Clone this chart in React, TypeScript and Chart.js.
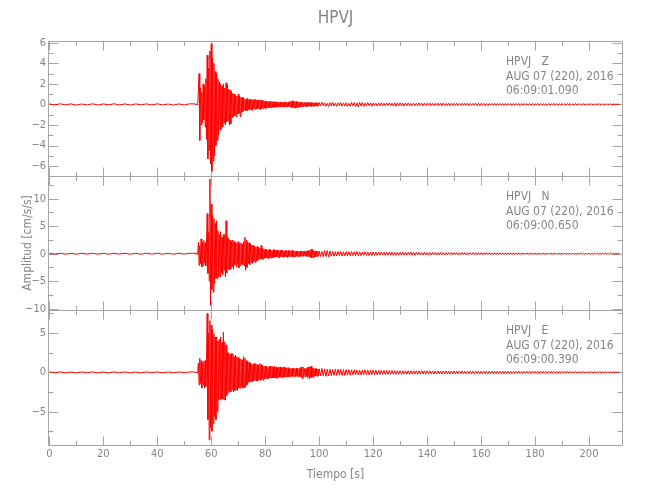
import React, { useEffect, useRef } from "react";
import { Chart, registerables } from "chart.js";

Chart.register(...registerables);

// ---------- data ----------
const TITLE = "HPVJ";
const X_TITLE = "Tiempo [s]";
const Y_TITLE = "Amplitud [cm/s/s]";
const stationLabels = ["HPVJ   Z", "HPVJ   N", "HPVJ   E"];
const dateLabel = "AUG 07 (220), 2016";
const startTimes = ["06:09:01.090", "06:09:00.650", "06:09:00.390"];

// sampling of the three segments of each trace (seconds)
const PRE_START = 0;
const PRE_DT = 2;
const STRONG_START = 54;
const STRONG_DT = 0.25;
const CODA_START = 100;
const CODA_DT = 0.5;

const X_MIN = -0.5;
const X_MAX = 212.6;
const xMajorStep = 20;
const xMinorStep = 10;
const xTickLast = 200;

// panel ranges (top to bottom: Z, N, E)
const yMins = [-6.93, -10.3, -9.24];
const yMaxs = [6.17, 14.2, 7.9];
const yMajorSteps = [2, 5, 5];
const yMinorSteps = [1, 2.5, 2.5];

// Z component
const zPre = [0.05, -0.05, 0.06, -0.04, 0.05, -0.06, 0.04, -0.05, 0.06, -0.05, 0.05, -0.04, 0.06, -0.05, 0.05, -0.06, 0.05, -0.04, 0.05, -0.05, 0.06, -0.05, 0.04, -0.06, 0.05, -0.05, 0.06];
const zStrong = [
  0.05, -0.04, 0.06, -0.05, 0.1, 1.5, 3.0, -3.5, 1.6, -2.0, 1.2, -1.8, 2.0, -1.5, 1.8, -2.2, 2.5, -3.4, 4.8, -5.3,
  3.5, -4.5, 5.2, -5.8, 5.9, -6.5, 4.5, -5.5, 4.0, -5.0, 3.2, -4.0, 3.0, -3.5, 2.5, -3.0, 2.2, -2.5, 2.0, -2.4,
  1.8, -2.2, 2.0, -1.8, 1.6, -2.0, 2.1, -1.7, 1.9, -1.6, 1.5, -2.0, 1.4, -1.9, 1.2, -1.3, 1.1, -1.2, 1.0, -1.1,
  0.9, -1.2, 0.8, -0.9, 1.0, -0.9, 0.8, -1.2, 0.7, -0.8, 0.7, -0.7, 0.6, -0.55, 0.55, -0.6, 0.5, -0.6, 0.6, -0.5,
  0.5, -0.55, 0.45, -0.5, 0.5, -0.6, 0.45, -0.4, 0.45, -0.5, 0.5, -0.45, 0.4, -0.45, 0.4, -0.42, 0.45, -0.5, 0.42, -0.4,
  0.35, -0.4, 0.38, -0.35, 0.3, -0.4, 0.32, -0.3, 0.3, -0.35, 0.28, -0.3, 0.28, -0.3, 0.3, -0.26, 0.25, -0.3, 0.27, -0.25,
  0.25, -0.28, 0.24, -0.25, 0.22, -0.25, 0.24, -0.22, 0.22, -0.25, 0.2, -0.22, 0.25, -0.22, 0.22, -0.25, 0.2, -0.22, 0.22, -0.2,
  0.28, -0.25, 0.3, -0.3, 0.35, -0.3, 0.32, -0.35, 0.3, -0.35, 0.28, -0.3, 0.25, -0.3, 0.24, -0.25, 0.22, -0.25, 0.22, -0.2,
  0.2, -0.22, 0.18, -0.2, 0.2, -0.22, 0.18, -0.2, 0.18, -0.18, 0.2, -0.17, 0.18, -0.2, 0.16, -0.18, 0.16, -0.18, 0.17, -0.16,
  0.15, -0.18, 0.16, -0.15,
];
const zCoda = [
  0.18, -0.15, 0.2, -0.12, 0.16, -0.18, 0.1, -0.2, 0.17, -0.14, 0.2, -0.16, 0.12, -0.18, 0.15, -0.1, 0.18, -0.17, 0.14, -0.15,
  0.16, -0.2, 0.12, -0.18, 0.2, -0.14, 0.17, -0.22, 0.15, -0.25, 0.2, -0.16, 0.18, -0.2, 0.13, -0.17, 0.16, -0.12, 0.15, -0.18,
  0.14, -0.16, 0.1, -0.15, 0.14, -0.12, 0.16, -0.14, 0.12, -0.15, 0.13, -0.1, 0.15, -0.14, 0.12, -0.16, 0.17, -0.18, 0.15, -0.13,
  0.16, -0.14, 0.12, -0.15, 0.13, -0.11, 0.14, -0.12, 0.1, -0.14, 0.12, -0.13, 0.11, -0.12, 0.14, -0.1, 0.12, -0.13, 0.11, -0.12,
  0.12, -0.1, 0.13, -0.12, 0.1, -0.12, 0.11, -0.13, 0.12, -0.1, 0.11, -0.12, 0.13, -0.11, 0.1, -0.12, 0.12, -0.11, 0.1, -0.11,
  0.11, -0.1, 0.12, -0.1, 0.09, -0.11, 0.12, -0.1, 0.11, -0.09, 0.1, -0.12, 0.1, -0.1, 0.11, -0.09, 0.1, -0.11, 0.12, -0.1,
  0.1, -0.09, 0.1, -0.11, 0.09, -0.1, 0.08, -0.1, 0.1, -0.09, 0.11, -0.08, 0.09, -0.1, 0.1, -0.09, 0.08, -0.1, 0.09, -0.1,
  0.1, -0.08, 0.09, -0.1, 0.08, -0.09, 0.1, -0.08, 0.09, -0.1, 0.08, -0.09, 0.1, -0.09, 0.08, -0.1, 0.09, -0.08, 0.1, -0.09,
  0.09, -0.08, 0.1, -0.09, 0.08, -0.08, 0.09, -0.1, 0.08, -0.09, 0.09, -0.08, 0.08, -0.09, 0.1, -0.08, 0.09, -0.08, 0.08, -0.09,
  0.08, -0.09, 0.08, -0.07, 0.09, -0.08, 0.08, -0.09, 0.07, -0.08, 0.09, -0.08, 0.08, -0.07, 0.08, -0.09, 0.08, -0.08, 0.07, -0.08,
  0.08, -0.07, 0.08, -0.08, 0.07, -0.08, 0.08, -0.07, 0.08, -0.07, 0.07, -0.08, 0.08, -0.07, 0.07, -0.08, 0.08, -0.07, 0.07, -0.08,
  0.07, -0.08, 0.07, -0.07,
];

// N component
const nPre = [0.08, -0.07, 0.08, -0.08, 0.07, -0.08, 0.08, -0.07, 0.08, -0.08, 0.07, -0.08, 0.08, -0.07, 0.08, -0.08, 0.07, -0.08, 0.08, -0.07, 0.08, -0.08, 0.07, -0.08, 0.08, -0.07, 0.08];
const nStrong = [
  0.1, -0.08, 0.1, -0.1, 0.3, 2.1, -2.1, 1.5, -1.8, 2.7, -2.4, 2.0, -2.2, 2.4, -1.6, 2.0, -2.2, 1.8, 7.3, -3.6,
  4.0, -5.0, 13.6, -9.4, 9.0, -6.5, 7.0, -7.0, 6.4, -5.5, 5.5, -4.5, 6.0, -4.5, 4.2, -4.2, 3.5, -4.2, 4.0, -3.5,
  3.0, -3.8, 3.5, -3.0, 3.5, -4.2, 6.0, -3.5, 3.0, -2.8, 2.8, -3.0, 2.5, -2.8, 2.2, -2.4, 2.5, -2.8, 2.2, -2.0,
  2.0, -2.4, 2.0, -1.8, 2.2, -2.6, 1.8, -2.2, 2.0, -1.8, 1.8, -2.0, 2.2, -2.2, 3.0, -3.0, 2.4, -2.5, 2.0, -1.8,
  2.0, -2.0, 1.8, -1.6, 1.6, -1.8, 1.5, -1.4, 1.4, -1.6, 1.2, -1.4, 1.3, -1.2, 1.2, -1.0, 1.0, -0.9, 1.5, -1.0,
  1.0, -1.0, 0.9, -0.8, 0.8, -0.8, 0.8, -0.7, 0.7, -0.9, 0.8, -0.7, 0.7, -0.8, 0.6, -0.7, 0.7, -0.7, 0.8, -0.6,
  0.6, -0.6, 0.7, -0.6, 0.6, -0.8, 0.6, -0.5, 0.6, -0.6, 0.7, -0.6, 0.5, -0.6, 0.6, -0.5, 0.6, -0.7, 0.6, -0.5,
  0.5, -0.5, 0.55, -0.5, 0.6, -0.6, 0.5, -0.6, 0.5, -0.5, 0.5, -0.45, 0.5, -0.55, 0.45, -0.5, 0.5, -0.5, 0.45, -0.4,
  0.5, -0.5, 0.45, -0.45, 0.5, -0.45, 0.5, -0.5, 0.6, -0.5, 0.6, -0.7, 0.8, -0.7, 0.8, -0.75, 0.6, -0.6, 0.5, -0.55,
  0.5, -0.5, 0.45, -0.45,
];
const nCoda = [
  0.45, -0.5, 0.4, -0.55, 0.6, -0.5, 0.55, -0.6, 0.5, -0.45, 0.4, -0.45, 0.38, -0.42, 0.4, -0.35, 0.38, -0.4, 0.36, -0.38,
  0.35, -0.38, 0.4, -0.35, 0.38, -0.32, 0.35, -0.36, 0.4, -0.36, 0.34, -0.35, 0.32, -0.3, 0.35, -0.32, 0.3, -0.34, 0.32, -0.35,
  0.32, -0.3, 0.28, -0.32, 0.3, -0.28, 0.3, -0.26, 0.28, -0.3, 0.26, -0.28, 0.3, -0.26, 0.28, -0.3, 0.26, -0.28, 0.25, -0.26,
  0.25, -0.27, 0.26, -0.24, 0.25, -0.26, 0.24, -0.22, 0.3, -0.28, 0.26, -0.28, 0.24, -0.22, 0.25, -0.24, 0.22, -0.23, 0.22, -0.24,
  0.22, -0.24, 0.2, -0.22, 0.22, -0.2, 0.22, -0.21, 0.2, -0.22, 0.21, -0.2, 0.2, -0.22, 0.19, -0.2, 0.2, -0.19, 0.2, -0.2,
  0.2, -0.18, 0.19, -0.2, 0.18, -0.19, 0.2, -0.18, 0.18, -0.2, 0.19, -0.17, 0.18, -0.18, 0.17, -0.18, 0.18, -0.17, 0.18, -0.18,
  0.17, -0.18, 0.16, -0.17, 0.18, -0.16, 0.17, -0.16, 0.16, -0.17, 0.18, -0.16, 0.16, -0.17, 0.15, -0.16, 0.16, -0.15, 0.15, -0.16,
  0.16, -0.15, 0.15, -0.16, 0.16, -0.15, 0.14, -0.16, 0.15, -0.14, 0.16, -0.15, 0.14, -0.15, 0.15, -0.14, 0.15, -0.15, 0.14, -0.15,
  0.14, -0.15, 0.15, -0.14, 0.14, -0.13, 0.15, -0.14, 0.13, -0.14, 0.14, -0.13, 0.13, -0.14, 0.14, -0.13, 0.13, -0.14, 0.14, -0.13,
  0.13, -0.14, 0.12, -0.13, 0.13, -0.12, 0.13, -0.13, 0.12, -0.13, 0.13, -0.12, 0.12, -0.13, 0.13, -0.12, 0.12, -0.12, 0.13, -0.12,
  0.12, -0.12, 0.11, -0.12, 0.12, -0.11, 0.12, -0.11, 0.11, -0.12, 0.12, -0.11, 0.11, -0.12, 0.11, -0.11, 0.12, -0.11, 0.11, -0.11,
  0.11, -0.1, 0.11, -0.1,
];

// E component
const ePre = [0.06, -0.05, 0.06, -0.06, 0.05, -0.06, 0.06, -0.05, 0.06, -0.06, 0.05, -0.06, 0.06, -0.05, 0.06, -0.06, 0.05, -0.06, 0.06, -0.05, 0.06, -0.06, 0.05, -0.06, 0.06, -0.05, 0.06];
const eStrong = [
  0.05, -0.05, 0.06, -0.05, 0.2, 1.2, -1.6, 1.8, -1.4, 1.5, -2.0, 1.2, -1.6, 1.4, -2.0, 1.5, -1.8, 1.6, 7.5, -6.0,
  5.0, -8.6, 6.6, -7.0, 6.0, -7.5, 5.4, -6.5, 4.9, -5.6, 4.5, -6.0, 4.5, -5.0, 4.0, -3.5, 4.2, -3.5, 4.5, -3.4,
  3.8, -3.4, 5.1, -3.5, 3.9, -3.5, 3.5, -3.0, 2.5, -2.6, 2.5, -2.4, 2.3, -2.5, 2.4, -2.2, 2.4, -2.5, 2.0, -2.3,
  2.2, -2.2, 2.0, -2.3, 1.9, -2.0, 1.7, -2.0, 1.7, -1.8, 1.6, -2.0, 2.0, -1.9, 1.8, -1.9, 1.5, -1.6, 1.4, -1.3,
  1.3, -1.2, 1.2, -1.2, 1.1, -1.2, 1.0, -1.1, 1.2, -1.0, 1.1, -1.1, 1.0, -1.1, 0.9, -0.9, 1.1, -1.0, 1.0, -0.9,
  0.9, -1.0, 0.8, -0.8, 0.8, -0.8, 0.75, -0.8, 0.7, -0.8, 0.8, -0.7, 0.75, -0.7, 0.8, -0.7, 0.7, -0.7, 0.75, -0.7,
  0.7, -0.75, 0.6, -0.7, 0.65, -0.6, 0.7, -0.6, 0.6, -0.7, 0.65, -0.6, 0.7, -0.6, 0.55, -0.6, 0.6, -0.55, 0.6, -0.55,
  0.5, -0.55, 0.5, -0.5, 0.55, -0.5, 0.5, -0.55, 0.5, -0.5, 0.55, -0.5, 0.5, -0.55, 0.5, -0.5, 0.6, -0.6, 0.7, -0.8,
  0.7, -0.6, 0.5, -0.55, 0.5, -0.5, 0.6, -0.6, 0.7, -0.8, 0.7, -0.6, 0.8, -0.7, 0.6, -0.6, 0.5, -0.5, 0.5, -0.45,
  0.45, -0.5, 0.45, -0.45,
];
const eCoda = [
  0.45, -0.45, 0.5, -0.42, 0.45, -0.5, 0.42, -0.45, 0.4, -0.42, 0.38, -0.4, 0.42, -0.38, 0.4, -0.36, 0.38, -0.4, 0.36, -0.38,
  0.36, -0.35, 0.34, -0.36, 0.32, -0.3, 0.34, -0.32, 0.3, -0.32, 0.3, -0.3, 0.28, -0.3, 0.3, -0.28, 0.28, -0.3, 0.28, -0.27,
  0.28, -0.26, 0.27, -0.28, 0.25, -0.26, 0.26, -0.25, 0.24, -0.25, 0.25, -0.24, 0.24, -0.23, 0.24, -0.22, 0.23, -0.24, 0.22, -0.23,
  0.22, -0.24, 0.22, -0.21, 0.22, -0.22, 0.21, -0.22, 0.2, -0.21, 0.21, -0.2, 0.2, -0.21, 0.2, -0.2, 0.21, -0.2, 0.2, -0.19,
  0.2, -0.19, 0.2, -0.18, 0.19, -0.2, 0.18, -0.19, 0.18, -0.18, 0.17, -0.18, 0.18, -0.17, 0.18, -0.18, 0.17, -0.18, 0.17, -0.17,
  0.17, -0.18, 0.17, -0.16, 0.17, -0.17, 0.16, -0.17, 0.16, -0.16, 0.17, -0.16, 0.16, -0.16, 0.15, -0.16, 0.16, -0.15, 0.16, -0.16,
  0.15, -0.16, 0.15, -0.15, 0.16, -0.15, 0.14, -0.15, 0.15, -0.14, 0.15, -0.15, 0.14, -0.15, 0.14, -0.14, 0.15, -0.14, 0.14, -0.14,
  0.14, -0.15, 0.14, -0.14, 0.13, -0.14, 0.14, -0.13, 0.14, -0.13, 0.13, -0.14, 0.13, -0.13, 0.14, -0.13, 0.13, -0.13, 0.13, -0.12,
  0.13, -0.13, 0.12, -0.13, 0.13, -0.12, 0.13, -0.12, 0.12, -0.12, 0.12, -0.13, 0.12, -0.12, 0.12, -0.11, 0.12, -0.12, 0.11, -0.12,
  0.12, -0.12, 0.11, -0.12, 0.12, -0.11, 0.11, -0.12, 0.11, -0.11, 0.12, -0.11, 0.11, -0.11, 0.11, -0.12, 0.11, -0.11, 0.1, -0.11,
  0.11, -0.11, 0.1, -0.11, 0.11, -0.1, 0.11, -0.1, 0.1, -0.11, 0.1, -0.1, 0.11, -0.1, 0.1, -0.1, 0.1, -0.11, 0.1, -0.1,
  0.1, -0.1, 0.1, -0.1,
];

// ---------- styling ----------
const FONT = "'DejaVu Sans Condensed', 'Liberation Sans Narrow', 'DejaVu Sans', sans-serif";
const AXIS_COLOR = "#a6a6a6";
const TEXT_COLOR = "#858585";
const TRACE_COLOR = "#ff0000";
const PANEL_IDS = ["yZ", "yN", "yE"];

function buildTrace(pre: number[], strong: number[], coda: number[]) {
  const pts: { x: number; y: number }[] = [];
  pre.forEach((v, i) => pts.push({ x: PRE_START + i * PRE_DT, y: v }));
  strong.forEach((v, i) => pts.push({ x: STRONG_START + i * STRONG_DT, y: v }));
  coda.forEach((v, i) => pts.push({ x: CODA_START + i * CODA_DT, y: v }));
  return pts;
}

const fmt = (v: number) => (v < 0 ? "\u2212" + Math.abs(v) : String(v));

const framePlugin = {
  id: "panelFrames",
  beforeDatasetsDraw(chart: any) {
    const ctx = chart.ctx;
    const xs = chart.scales.x;
    const L = Math.round(chart.chartArea.left) + 0.5;
    const R = Math.round(chart.chartArea.right) - 0.5;
    ctx.save();
    ctx.strokeStyle = AXIS_COLOR;
    ctx.lineWidth = 1;
    PANEL_IDS.forEach((id, p) => {
      const s = chart.scales[id];
      const top = Math.round(s.top) + 0.5;
      const bottom = Math.round(s.bottom) + 0.5;
      ctx.beginPath();
      ctx.rect(L, top, R - L, bottom - top);
      s.ticks.forEach((t: any) => {
        const y = Math.round(s.getPixelForValue(t.value)) + 0.5;
        ctx.moveTo(L, y);
        ctx.lineTo(L + 10, y);
        ctx.moveTo(R, y);
        ctx.lineTo(R - 10, y);
      });
      const m = yMinorSteps[p];
      const M = yMajorSteps[p];
      for (let k = Math.ceil(s.min / m); k * m <= s.max; k++) {
        const v = k * m;
        const r = v / M;
        if (Math.abs(r - Math.round(r)) < 1e-6) continue;
        const y = Math.round(s.getPixelForValue(v)) + 0.5;
        ctx.moveTo(L, y);
        ctx.lineTo(L + 5, y);
        ctx.moveTo(R, y);
        ctx.lineTo(R - 5, y);
      }
      for (let k = 0; k * xMinorStep <= xTickLast; k++) {
        const v = k * xMinorStep;
        const major = v % xMajorStep === 0;
        const len = major ? 9 : 4.5;
        const x = Math.round(xs.getPixelForValue(v)) + 0.5;
        ctx.moveTo(x, top);
        ctx.lineTo(x, top + len);
        ctx.moveTo(x, bottom);
        ctx.lineTo(x, bottom - len);
      }
      ctx.stroke();
    });
    ctx.restore();
  },
  afterDatasetsDraw(chart: any) {
    const ctx = chart.ctx;
    const x = chart.chartArea.right - 117;
    ctx.save();
    ctx.fillStyle = TEXT_COLOR;
    ctx.font = "12px " + FONT;
    ctx.textBaseline = "middle";
    ctx.textAlign = "left";
    PANEL_IDS.forEach((id, p) => {
      const s = chart.scales[id];
      ctx.fillText(stationLabels[p], x, s.top + 21);
      ctx.fillText(dateLabel, x, s.top + 36);
      ctx.fillText(startTimes[p], x, s.top + 50);
    });
    ctx.restore();
  },
};

function yScale(p: number, withTitle: boolean) {
  return {
    type: "linear",
    position: "left",
    stack: "panels",
    stackWeight: 1,
    min: yMins[p],
    max: yMaxs[p],
    grid: { display: false, drawTicks: false },
    border: { display: false },
    ticks: {
      stepSize: yMajorSteps[p],
      includeBounds: false,
      autoSkip: false,
      padding: 2,
      color: TEXT_COLOR,
      font: { family: FONT, size: 11 },
      callback: (v: any) => fmt(Number(v)),
    },
    title: {
      display: withTitle,
      text: Y_TITLE,
      color: TEXT_COLOR,
      font: { family: FONT, size: 12 },
      padding: { top: 20.8, bottom: 0 },
    },
    afterFit: (scale: any) => {
      scale.width = 48;
    },
  };
}

export default function App() {
  const ref = useRef<HTMLCanvasElement | null>(null);
  useEffect(() => {
    if (!ref.current) return;
    const datasets = [
      { label: "Z", data: buildTrace(zPre, zStrong, zCoda), yAxisID: "yZ" },
      { label: "N", data: buildTrace(nPre, nStrong, nCoda), yAxisID: "yN" },
      { label: "E", data: buildTrace(ePre, eStrong, eCoda), yAxisID: "yE" },
    ].map((d) => ({
      ...d,
      borderColor: TRACE_COLOR,
      backgroundColor: TRACE_COLOR,
      borderWidth: 1,
      pointRadius: 0,
      tension: 0,
      fill: false,
    }));
    const chart = new Chart(ref.current, {
      type: "line",
      data: { datasets },
      options: {
        animation: false,
        responsive: false,
        devicePixelRatio: 1,
        parsing: false,
        layout: { padding: { left: 0, right: 27, top: 0, bottom: 0 } },
        plugins: {
          legend: { display: false },
          tooltip: { enabled: false },
          title: {
            display: true,
            text: TITLE,
            fullSize: false,
            color: TEXT_COLOR,
            font: { family: FONT, size: 17, weight: "normal" },
            padding: { top: 8, bottom: 12.6 },
          },
        },
        scales: {
          x: {
            type: "linear",
            position: "bottom",
            min: X_MIN,
            max: X_MAX,
            grid: { display: false, drawTicks: false },
            border: { display: false },
            ticks: {
              stepSize: xMajorStep,
              includeBounds: false,
              autoSkip: false,
              maxRotation: 0,
              padding: 3,
              color: TEXT_COLOR,
              font: { family: FONT, size: 11 },
              callback: (v: any) => fmt(Number(v)),
            },
            title: {
              display: true,
              text: X_TITLE,
              color: TEXT_COLOR,
              font: { family: FONT, size: 12 },
              padding: { top: 0, bottom: 17.8 },
            },
            afterFit: (scale: any) => {
              scale.height = 55;
            },
          },
          yE: yScale(2, false),
          yN: yScale(1, true),
          yZ: yScale(0, false),
        },
      } as any,
      plugins: [framePlugin],
    });
    return () => chart.destroy();
  }, []);
  return (
    <div style={{ position: "absolute", left: 0, top: 0, width: 650, height: 500, background: "#fff" }}>
      <canvas ref={ref} width={650} height={500} style={{ display: "block", width: 650, height: 500 }} />
    </div>
  );
}
